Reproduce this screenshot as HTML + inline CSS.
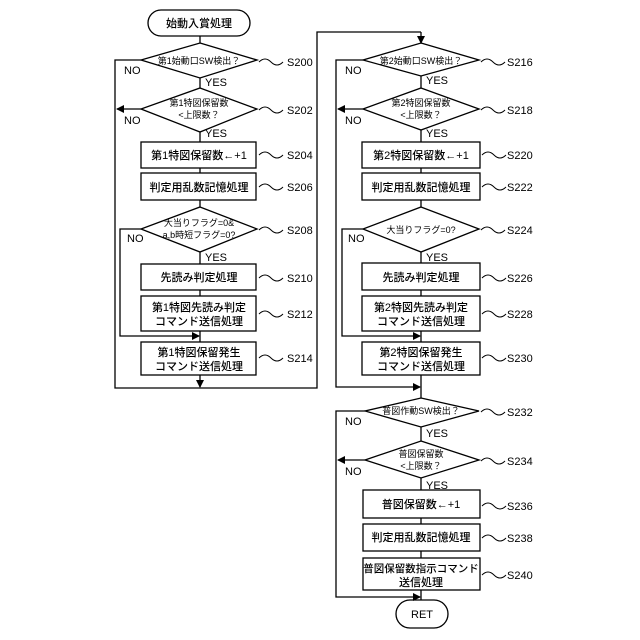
<!DOCTYPE html>
<html><head><meta charset="utf-8"><style>
html,body{margin:0;padding:0;background:#fff}
svg{display:block}
text{font-family:"Liberation Sans","Noto Sans CJK JP",sans-serif;fill:#000}
.b{font-size:11px;font-weight:500}
.s{font-size:9px}
.l{font-size:11px}
</style></head><body>
<svg width="640" height="640" viewBox="0 0 640 640" xmlns="http://www.w3.org/2000/svg">
<defs><marker id="a" markerWidth="8" markerHeight="8" refX="7" refY="4" orient="auto" markerUnits="userSpaceOnUse"><path d="M0,0 L8,4 L0,8 z" fill="#000"/></marker></defs>
<g stroke="#000" stroke-width="1.3" fill="none">
<rect x="148" y="10" width="102" height="26" rx="13"/>
<line x1="200" y1="36" x2="200" y2="43"/>
<polygon points="200,43 257,60 200,78 141,60"/>
<line x1="200" y1="78" x2="200" y2="88"/>
<polygon points="200,88 257,109 200,132 141,109"/>
<line x1="141" y1="109" x2="117" y2="109" marker-end="url(#a)"/>
<polyline points="141,60 115,60 115,388 317,388 317,32 421,32"/>
<line x1="421" y1="32" x2="421" y2="43" marker-end="url(#a)"/>
<line x1="200" y1="132" x2="200" y2="142"/>
<rect x="141" y="142" width="115" height="26"/>
<line x1="200" y1="168" x2="200" y2="173"/>
<rect x="141" y="173" width="115" height="27"/>
<line x1="200" y1="200" x2="200" y2="207"/>
<polygon points="200,207 257,229 200,252 141,229"/>
<polyline points="141,229 120,229 120,336 199,336" marker-end="url(#a)"/>
<line x1="200" y1="252" x2="200" y2="264"/>
<rect x="141" y="264" width="115" height="26"/>
<line x1="200" y1="290" x2="200" y2="296"/>
<rect x="141" y="296" width="115" height="35"/>
<line x1="200" y1="331" x2="200" y2="342"/>
<rect x="141" y="342" width="115" height="33"/>
<line x1="200" y1="375" x2="200" y2="387" marker-end="url(#a)"/>
<polygon points="421,43 479,60 421,76 363,60"/>
<line x1="421" y1="76" x2="421" y2="88"/>
<polygon points="421,88 479,109 421,130 363,109"/>
<line x1="363" y1="109" x2="338" y2="109" marker-end="url(#a)"/>
<polyline points="363,60 336,60 336,387 420,387" marker-end="url(#a)"/>
<line x1="421" y1="130" x2="421" y2="142"/>
<rect x="362" y="142" width="118" height="26"/>
<line x1="421" y1="168" x2="421" y2="173"/>
<rect x="362" y="173" width="118" height="27"/>
<line x1="421" y1="200" x2="421" y2="207"/>
<polygon points="421,207 479,229 421,252 363,229"/>
<polyline points="363,229 342,229 342,336 420,336" marker-end="url(#a)"/>
<line x1="421" y1="252" x2="421" y2="263"/>
<rect x="362" y="263" width="118" height="27"/>
<line x1="421" y1="290" x2="421" y2="296"/>
<rect x="362" y="296" width="118" height="35"/>
<line x1="421" y1="331" x2="421" y2="342"/>
<rect x="362" y="342" width="118" height="33"/>
<line x1="421" y1="375" x2="421" y2="398"/>
<polygon points="421,398 479,411 421,427 365,411"/>
<line x1="421" y1="427" x2="421" y2="441"/>
<polygon points="421,441 479,460 421,478 365,460"/>
<line x1="365" y1="460" x2="338" y2="460" marker-end="url(#a)"/>
<polyline points="365,411 336,411 336,597 420,597" marker-end="url(#a)"/>
<line x1="421" y1="478" x2="421" y2="490"/>
<rect x="363" y="490" width="117" height="28"/>
<line x1="421" y1="518" x2="421" y2="524"/>
<rect x="363" y="524" width="117" height="27"/>
<line x1="421" y1="551" x2="421" y2="558"/>
<rect x="363" y="558" width="117" height="32"/>
<line x1="421" y1="590" x2="421" y2="600"/>
<rect x="396" y="600" width="52" height="28" rx="14"/>
<g stroke-width="1">
<path d="M259,62 q6,-6 12,0 t12,0"/>
<path d="M259,110 q6,-6 12,0 t12,0"/>
<path d="M259,155 q6,-6 12,0 t12,0"/>
<path d="M259,187 q6,-6 12,0 t12,0"/>
<path d="M259,230 q6,-6 12,0 t12,0"/>
<path d="M259,278 q6,-6 12,0 t12,0"/>
<path d="M259,314 q6,-6 12,0 t12,0"/>
<path d="M259,358 q6,-6 12,0 t12,0"/>
<path d="M481,62 q6,-6 12,0 t12,0"/>
<path d="M481,110 q6,-6 12,0 t12,0"/>
<path d="M482,155 q6,-6 12,0 t12,0"/>
<path d="M482,187 q6,-6 12,0 t12,0"/>
<path d="M481,230 q6,-6 12,0 t12,0"/>
<path d="M482,278 q6,-6 12,0 t12,0"/>
<path d="M482,314 q6,-6 12,0 t12,0"/>
<path d="M482,358 q6,-6 12,0 t12,0"/>
<path d="M481,412 q6,-6 12,0 t12,0"/>
<path d="M481,461 q6,-6 12,0 t12,0"/>
<path d="M482,506 q6,-6 12,0 t12,0"/>
<path d="M482,538 q6,-6 12,0 t12,0"/>
<path d="M482,575 q6,-6 12,0 t12,0"/>
</g>
</g>
<g text-anchor="middle">
<text x="199" y="27" class="b">始動入賞処理</text>
<text x="199" y="64" class="s">第1始動口SW検出？</text>
<text x="199" y="106" class="s">第1特図保留数</text>
<text x="199" y="118" class="s">&lt;上限数？</text>
<text x="199" y="159" class="b">第1特図保留数←+1</text>
<text x="199" y="191" class="b">判定用乱数記憶処理</text>
<text x="199" y="226" class="s">大当りフラグ=0&amp;</text>
<text x="199" y="238" class="s">a,b時短フラグ=0?</text>
<text x="199" y="281" class="b">先読み判定処理</text>
<text x="199" y="311" class="b">第1特図先読み判定</text>
<text x="199" y="325" class="b">コマンド送信処理</text>
<text x="199" y="356" class="b">第1特図保留発生</text>
<text x="199" y="370" class="b">コマンド送信処理</text>
<text x="421" y="64" class="s">第2始動口SW検出？</text>
<text x="421" y="106" class="s">第2特図保留数</text>
<text x="421" y="118" class="s">&lt;上限数？</text>
<text x="421" y="159" class="b">第2特図保留数←+1</text>
<text x="421" y="191" class="b">判定用乱数記憶処理</text>
<text x="421" y="233" class="s">大当りフラグ=0?</text>
<text x="421" y="281" class="b">先読み判定処理</text>
<text x="421" y="311" class="b">第2特図先読み判定</text>
<text x="421" y="325" class="b">コマンド送信処理</text>
<text x="421" y="356" class="b">第2特図保留発生</text>
<text x="421" y="370" class="b">コマンド送信処理</text>
<text x="421" y="414" class="s">普図作動SW検出？</text>
<text x="421" y="457" class="s">普図保留数</text>
<text x="421" y="469" class="s">&lt;上限数？</text>
<text x="421" y="508" class="b">普図保留数←+1</text>
<text x="421" y="541" class="b">判定用乱数記憶処理</text>
<text x="421" y="572" class="b" style="font-size:10.5px">普図保留数指示コマンド</text>
<text x="421" y="586" class="b">送信処理</text>
<text x="422" y="618" class="b">RET</text>
</g>
<g class="l">
<text x="205" y="86">YES</text><text x="205" y="137">YES</text><text x="205" y="261">YES</text>
<text x="426" y="84">YES</text><text x="426" y="137">YES</text><text x="426" y="261">YES</text>
<text x="426" y="437">YES</text><text x="426" y="489">YES</text>
<text x="124" y="74">NO</text><text x="124" y="124">NO</text><text x="127" y="242">NO</text>
<text x="345" y="74">NO</text><text x="345" y="124">NO</text><text x="348" y="242">NO</text>
<text x="345" y="425">NO</text><text x="345" y="475">NO</text>
<text x="287" y="66">S200</text><text x="287" y="114">S202</text><text x="287" y="159">S204</text><text x="287" y="191">S206</text>
<text x="287" y="234">S208</text><text x="287" y="282">S210</text><text x="287" y="318">S212</text><text x="287" y="362">S214</text>
<text x="507" y="66">S216</text><text x="507" y="114">S218</text><text x="507" y="159">S220</text><text x="507" y="191">S222</text>
<text x="507" y="234">S224</text><text x="507" y="282">S226</text><text x="507" y="318">S228</text><text x="507" y="362">S230</text>
<text x="507" y="416">S232</text><text x="507" y="465">S234</text><text x="507" y="510">S236</text><text x="507" y="542">S238</text><text x="507" y="579">S240</text>
</g>
</svg>
</body></html>
